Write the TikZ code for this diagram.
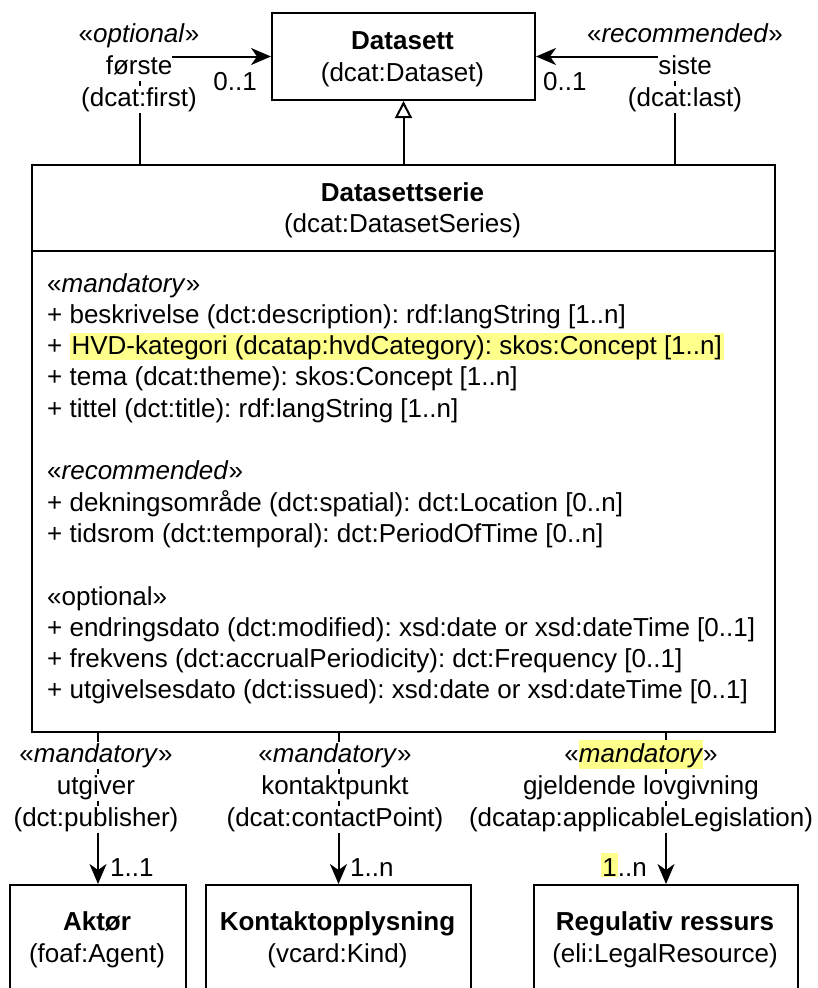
\documentclass[tikz,border=0pt]{standalone}
\usepackage{fontspec}
\setmainfont{Liberation Sans}
\usetikzlibrary{arrows.meta}
\frenchspacing
\definecolor{hly}{RGB}{255,255,140}
\newcommand\fs{\fontsize{26}{31.3}\selectfont\frenchspacing}
\newcommand\hlt[1]{{\setlength\fboxsep{0pt}\colorbox{hly}{\rule[-4.5pt]{0pt}{26pt}\hspace{2pt}#1\hspace{2pt}}}}
\newcommand\hlw[1]{{\setlength\fboxsep{0pt}\colorbox{hly}{\rule[-7pt]{0pt}{29pt}#1}}}
\newcommand\hlo[1]{{\setlength\fboxsep{0pt}\colorbox{hly}{\rule[-1pt]{0pt}{24pt}\hspace{1pt}#1\hspace{1pt}}}}
\begin{document}
\begin{tikzpicture}[x=1pt,y=-1pt,
  txt/.style={inner sep=0pt,font=\fs,anchor=base},
  lbl/.style={txt,fill=white,text height=20pt,text depth=7pt},
  attr/.style={inner sep=0pt,font=\fs,anchor=base west},
  umlbox/.style={draw,line width=2pt,inner sep=0pt},
  conn/.style={line width=2pt},
  assoc/.style={conn,-{Stealth[length=20pt,width=17pt,inset=6pt]}},
  gen/.style={conn,-{Triangle[open,length=17pt,width=17pt,fill=white]}}]
\useasboundingbox (0,0) rectangle (817,988);
\fill[white] (0,0) rectangle (817,988);
\clip (0,0) rectangle (817,988);

% boxes
\node[umlbox,minimum width=263pt,minimum height=87pt,anchor=north west] (datasett) at (271,12) {};
\node[umlbox,minimum width=743pt,minimum height=567pt,anchor=north west] (serie) at (31,164) {};
\node[umlbox,minimum width=176pt,minimum height=140pt,anchor=north west] (aktor) at (9,884) {};
\node[umlbox,minimum width=265pt,minimum height=140pt,anchor=north west] (kontakt) at (205,884) {};
\node[umlbox,minimum width=264pt,minimum height=140pt,anchor=north west] (reg) at (533,884) {};

% coordinates for connector bends
\coordinate (cl) at (140,0);
\coordinate (cr) at (675,0);
\coordinate (dv) at (0,251);

% divider in Datasettserie
\draw[conn] (serie.west |- dv) -- (serie.east |- dv);

% connectors
\draw[assoc] (serie.north -| cl) |- (datasett.west);
\draw[assoc] (serie.north -| cr) |- (datasett.east);
\draw[gen] (serie.north -| datasett.south) -- (datasett.south);
\draw[assoc] (serie.south -| aktor.north) -- (aktor.north);
\draw[assoc] (serie.south -| kontakt.north) -- (kontakt.north);
\draw[assoc] (serie.south -| reg.north) -- (reg.north);

% box titles
\node[txt] (t1) at (402.5,49) {\bfseries Datasett};
\node[txt] (t2) at (402.5,81) {(dcat:Dataset)};
\node[txt] (t3) at (402.5,201) {\bfseries Datasettserie};
\node[txt] (t4) at (402.5,232) {(dcat:DatasetSeries)};
\node[txt] (t5) at (97,930) {\bfseries Aktør};
\node[txt] (t6) at (97,962) {(foaf:Agent)};
\node[txt] (t7) at (337.5,930) {\bfseries Kontaktopplysning};
\node[txt] (t8) at (337.5,962) {(vcard:Kind)};
\node[txt] (t9) at (665,930) {\bfseries Regulativ ressurs};
\node[txt] (t10) at (665,962) {(eli:LegalResource)};

% attributes
\node[attr] (a0) at (47,292) {«\textit{mandatory}»};
\node[attr] (a1) at (47,323.3) {+ beskrivelse (dct:description): rdf:langString [1..n]};
\node[attr] (a2) at (47,354.6) {+ \hlt{HVD-kategori (dcatap:hvdCategory): skos:Concept [1..n]}};
\node[attr] (a3) at (47,385.9) {+ tema (dcat:theme): skos:Concept [1..n]};
\node[attr] (a4) at (47,417.2) {+ tittel (dct:title): rdf:langString [1..n]};
\node[attr] (a5) at (47,479.8) {«\textit{recommended}»};
\node[attr] (a6) at (47,511.1) {+ dekningsområde (dct:spatial): dct:Location [0..n]};
\node[attr] (a7) at (47,542.4) {+ tidsrom (dct:temporal): dct:PeriodOfTime [0..n]};
\node[attr] (a8) at (47,605) {«optional»};
\node[attr] (a9) at (47,636.3) {+ endringsdato (dct:modified): xsd:date or xsd:dateTime [0..1]};
\node[attr] (a10) at (47,667.6) {+ frekvens (dct:accrualPeriodicity): dct:Frequency [0..1]};
\node[attr] (a11) at (47,698.9) {+ utgivelsesdato (dct:issued): xsd:date or xsd:dateTime [0..1]};

% top labels
\node[lbl] (l1) at (139,42) {«\textit{optional}»};
\node[lbl] (l2) at (139,74) {første};
\node[lbl] (l3) at (139,106) {(dcat:first)};
\node[txt,anchor=base east] (m1) at (257,90) {0..1};
\node[lbl] (r1) at (685,42) {«\textit{recommended}»};
\node[lbl] (r2) at (685,74) {siste};
\node[lbl] (r3) at (685,106) {(dcat:last)};
\node[txt,anchor=base west] (m2) at (543,90) {0..1};

% bottom labels
\node[lbl] (b1) at (96,762) {«\textit{mandatory}»};
\node[lbl] (b2) at (96,794) {utgiver};
\node[lbl] (b3) at (96,826) {(dct:publisher)};
\node[txt,anchor=base west] (m3) at (110,876) {1..1};
\node[lbl] (c1) at (335,762) {«\textit{mandatory}»};
\node[lbl] (c2) at (335,794) {kontaktpunkt};
\node[lbl] (c3) at (335,826) {(dcat:contactPoint)};
\node[txt,anchor=base west] (m4) at (350,876) {1..n};
\node[lbl] (d1) at (641,762) {«\hlw{\textit{mandatory}}»};
\node[lbl] (d2) at (641,794) {gjeldende lovgivning};
\node[lbl] (d3) at (641,826) {(dcatap:applicableLegislation)};
\node[txt,anchor=base east] (m5) at (647,876) {\hlo{1}..n};
\end{tikzpicture}
\end{document}
